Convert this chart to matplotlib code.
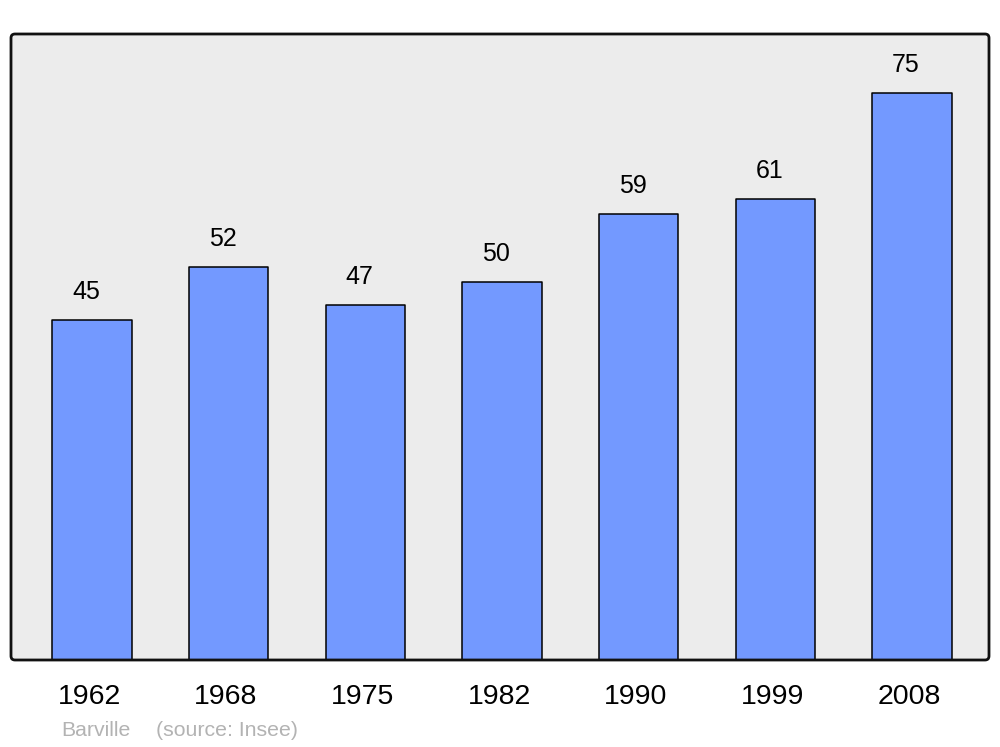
import matplotlib
matplotlib.use('Agg')
import matplotlib.pyplot as plt
from matplotlib.patches import FancyBboxPatch
from matplotlib.transforms import IdentityTransform

plt.rcParams['font.family'] = ['Liberation Sans', 'DejaVu Sans']

# Data
years = ['1962', '1968', '1975', '1982', '1990', '1999', '2008']
population = [45, 52, 47, 50, 59, 61, 75]
town = 'Barville'
source = '(source: Insee)'

bar_color = '#7399ff'
bg_color = '#ececec'

fig = plt.figure(figsize=(10, 7.47), dpi=100)
ax = fig.add_axes([0.011, 0.1165, 0.978, 0.838])
ax.patch.set_visible(False)
for s in ax.spines.values():
    s.set_visible(False)

# Background and rounded frame, in pixels
frame_fill = FancyBboxPatch((11, 747 - 660), 978, 626, boxstyle='round,pad=0,rounding_size=4',
                            transform=IdentityTransform(), facecolor=bg_color, edgecolor='none', zorder=-1)
frame_edge = FancyBboxPatch((11, 747 - 660), 978, 626, boxstyle='round,pad=0,rounding_size=4',
                            transform=IdentityTransform(), facecolor='none', edgecolor='#111111',
                            linewidth=2.0, zorder=5)
fig.patches.extend([frame_fill, frame_edge])

x = range(len(years))
bars = ax.bar(x, population, width=0.58, color=bar_color, edgecolor='black', linewidth=1.1)
for b in bars:
    b.set_joinstyle('round')

for i, v in enumerate(population):
    ax.text(i - 0.045, v + 3.7, str(v), ha='center', va='center', fontsize=18, color='black')

ax.set_xlim(-0.593, 6.563)
ax.set_ylim(0, 82.8)
ax.set_xticks([])
ax.set_yticks([])

# Year labels below the frame
for i, yr in enumerate(years):
    ax.annotate(yr, xy=(i - 0.02, 0), xycoords='data', xytext=(0, -37), textcoords='offset pixels',
                ha='center', va='center', fontsize=20.5, annotation_clip=False)

fig.text(0.061, 1 - 731 / 747, town, ha='left', va='center', fontsize=15.3, color='#b3b3b3')
fig.text(0.156, 1 - 731 / 747, source, ha='left', va='center', fontsize=15.3, color='#b3b3b3')

fig.savefig('out.png', dpi=100)
